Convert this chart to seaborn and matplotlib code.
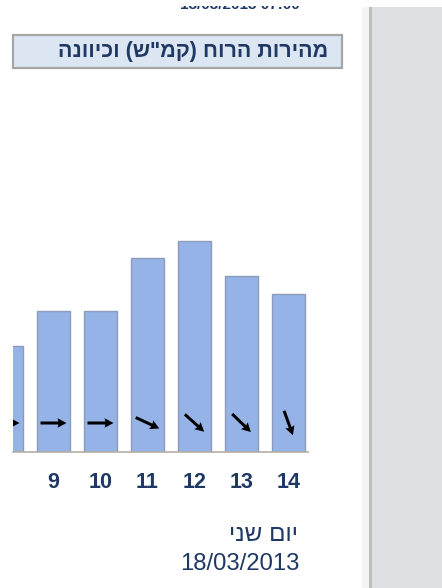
import numpy as np
import matplotlib
matplotlib.use("Agg")
import matplotlib.pyplot as plt
from matplotlib.patches import Rectangle
import seaborn as sns

# ---- data ----
hours = [8, 9, 10, 11, 12, 13, 14]
wind_speed_kmh = [6, 8, 8, 11, 12, 10, 9]
wind_from_deg = [270, 270, 270, 295, 312, 314, 340]   # meteorological "from" direction
title_text = 'מהירות הרוח (קמ"ש) וכיוונה'
day_text = "יום שני"
date_text = "18/03/2013"
top_text = "18/03/2013 07:00"


def rtl(s):
    """Visual order for right-to-left text (matplotlib has no bidi)."""
    swap = {"(": ")", ")": "("}
    return "".join(swap.get(c, c) for c in reversed(s))


sns.set_style("white")
plt.rcParams["font.family"] = ["Liberation Sans", "DejaVu Sans"]

W, H, DPI = 442, 588, 100
fig = plt.figure(figsize=(W / DPI, H / DPI), dpi=DPI)
fig.patch.set_facecolor("white")


def fx(px):
    return px / W


def fy(py):
    return 1 - py / H


navy = "#1f3864"
bar_fill = "#95b3e7"
bar_edge = "#8d9cb8"

# ---- main axes (left part clipped at x=13px) ----
ax_left, ax_right = 13, 308
ax_top, ax_base = 100, 452
unit_px = 17.6
spacing_px = 47.0
center0_px = 6.5

ax = fig.add_axes([fx(ax_left), fy(ax_base), fx(ax_right - ax_left), (ax_base - ax_top) / H])
sns.barplot(x=hours, y=wind_speed_kmh, color=bar_fill, saturation=1, width=0.71,
            edgecolor=bar_edge, linewidth=1.0, ax=ax)

# wind direction arrows (pointing where the wind blows to)
to_rad = np.deg2rad(np.array(wind_from_deg) + 180)
U = np.sin(to_rad)
V = np.cos(to_rad)
X = np.arange(len(hours))
Y = np.full(len(hours), 29 / unit_px)
ax.quiver(X, Y, U, V, pivot="middle", angles="uv", units="dots", scale_units="dots",
          scale=1 / 26, width=3, headwidth=3.2, headlength=3, headaxislength=2.7,
          color="black", zorder=5)

for s in ["top", "right", "left"]:
    ax.spines[s].set_visible(False)
ax.spines["bottom"].set_color("#b5aea4")
ax.spines["bottom"].set_linewidth(1.2)
ax.set_yticks([])
ax.set_xticks(range(len(hours)))
ax.set_xticklabels([str(h) for h in hours], fontsize=15.5, fontweight="bold", color=navy)
ax.tick_params(axis="x", length=0, pad=14.5)
ax.set_xlabel("")
ax.set_ylabel("")
ax.set_facecolor("white")

x0 = (ax_left - center0_px) / spacing_px
ax.set_xlim(x0, x0 + (ax_right - ax_left) / spacing_px)
ax.set_ylim(0, (ax_base - ax_top) / unit_px)
ax.set_autoscale_on(False)

# ---- title box ----
fig.add_artist(Rectangle((fx(13), fy(68)), fx(342 - 13), (68 - 35) / H,
                         transform=fig.transFigure, facecolor="#dce6f2",
                         edgecolor="#a6a6a6", linewidth=1.6))
fig.text(fx(328), fy(52), rtl(title_text), ha="right", va="center",
         fontsize=15.5, fontweight="bold", color=navy)

# text at the very top, cut off by the page container
fig.text(fx(300), fy(9), top_text, ha="right", va="baseline",
         fontsize=11, fontweight="bold", color=navy)
fig.add_artist(Rectangle((0, fy(5.5)), fx(362), 5.5 / H, transform=fig.transFigure,
                         facecolor="white", edgecolor="none", zorder=10))

# ---- bottom day/date ----
fig.text(fx(298), fy(535), rtl(day_text), ha="right", va="center",
         fontsize=17.5, color=navy)
fig.text(fx(299), fy(564), date_text, ha="right", va="center",
         fontsize=17.2, color=navy)

# ---- right side panel ----
fig.add_artist(Rectangle((fx(362), 0), fx(369 - 362), fy(7),
                         transform=fig.transFigure, facecolor="#f4f4f4", edgecolor="none"))
fig.add_artist(Rectangle((fx(369), 0), fx(372 - 369), fy(7),
                         transform=fig.transFigure, facecolor="#bcbcbc", edgecolor="none"))
fig.add_artist(Rectangle((fx(372), 0), fx(W - 372), fy(7),
                         transform=fig.transFigure, facecolor="#dfe0e3", edgecolor="none"))

fig.savefig("out.png", dpi=DPI)
